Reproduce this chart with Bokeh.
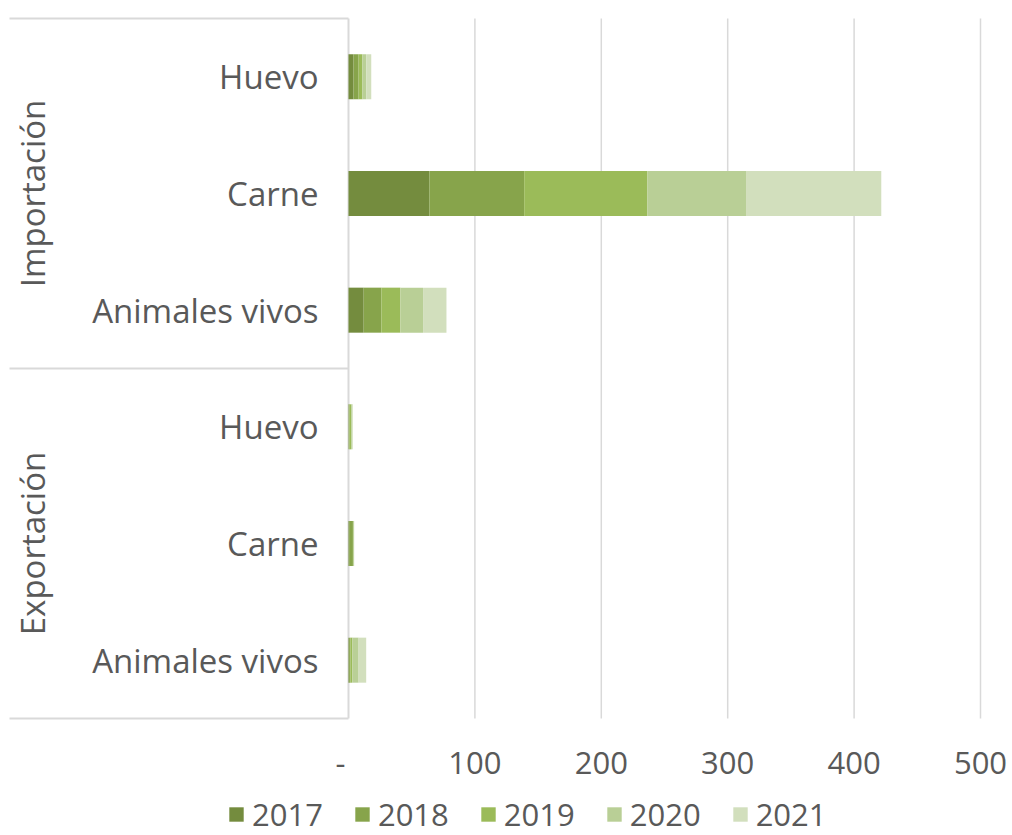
import math
from bokeh.plotting import figure
from bokeh.models import ColumnDataSource, Range1d, Legend, LegendItem
from bokeh.core.properties import value
from bokeh.embed import file_html
from bokeh.resources import INLINE

groups = ["Importación", "Exportación"]
products = ["Huevo", "Carne", "Animales vivos", "Huevo", "Carne", "Animales vivos"]
years = ["2017", "2018", "2019", "2020", "2021"]
v2017 = [4, 64, 12, 0.2, 0.5, 0.5]
v2018 = [4, 75, 14, 0.5, 3.0, 1.0]
v2019 = [3, 97.5, 15, 1.5, 0.5, 1.5]
v2020 = [3, 78, 18, 0.8, 0.3, 5.0]
v2021 = [4, 107, 18.5, 0.5, 0.2, 6.0]
colors = ["#748C3E", "#87A44B", "#9BBB59", "#B9CF96", "#D2DFBD"]
xticks = [0, 100, 200, 300, 400, 500]
xtick_labels = ["-", "100", "200", "300", "400", "500"]

FONT = "Open Sans"
TXT = "#595959"
GRID = "#D9D9D9"

# layout (page pixels; canvas observed to start at page origin)
ORG = 0
W, H = 1012, 835
PX0, PY0 = 348, 718          # page position of value 0 / bottom of plot area
PXX = 632 / 500.0            # px per x unit
n = len(products)
PXY = 700 / float(n)         # px per category

def dx(px):  # page x -> data x
    return (px - PX0) / PXX

def dy(py):  # page y -> data y
    return (PY0 - py) / PXY

ypos = [n - 0.5 - i for i in range(n)]
src = ColumnDataSource(dict(y=ypos, **{"2017": v2017, "2018": v2018, "2019": v2019,
                                       "2020": v2020, "2021": v2021}))

p = figure(width=W, height=H, output_backend="svg", toolbar_location=None,
           x_range=Range1d(dx(ORG), dx(ORG + W)), y_range=Range1d(dy(ORG + H), dy(ORG)),
           x_axis_location=None, y_axis_location=None,
           min_border=0, min_border_left=0, min_border_right=0,
           min_border_top=0, min_border_bottom=0)
p.outline_line_color = None
p.xgrid.visible = False
p.ygrid.visible = False

# vertical grid lines and axis line
p.segment(x0=xticks[1:], x1=xticks[1:], y0=[0] * 5, y1=[n] * 5,
          line_color=GRID, line_width=1.5)
p.segment(x0=[0], x1=[0], y0=[0], y1=[n], line_color=GRID, line_width=2)
# category group separators
seps = [0, n / 2, n]
p.segment(x0=[dx(9)] * 3, x1=[0] * 3, y0=seps, y1=seps, line_color=GRID, line_width=2)

renderers = p.hbar_stack(years, y="y", height=0.386, color=colors, source=src,
                         line_color=None)

# category labels
p.text(x=[0] * n, y=ypos, text=products, x_offset=-30,
       text_align="right", text_baseline="middle",
       text_font=value(FONT), text_font_size="33px", text_color=TXT)
# group labels
p.text(x=[dx(32)] * 2, y=[ypos[1], ypos[4]], text=groups, angle=math.pi / 2,
       text_align="center", text_baseline="middle",
       text_font=value(FONT), text_font_size="33px", text_color=TXT)
# x tick labels
p.text(x=xticks, y=[dy(762)] * len(xticks), text=xtick_labels,
       x_offset=[-8, 0, 0, 0, 0, 0],
       text_align="center", text_baseline="middle",
       text_font=value(FONT), text_font_size="31px", text_color=TXT)

legend = Legend(items=[LegendItem(label=y, renderers=[r]) for y, r in zip(years, renderers)],
                orientation="horizontal", location=(227 - ORG, 0))
legend.label_text_font = FONT
legend.label_text_font_size = "31px"
legend.label_text_color = TXT
legend.glyph_width = 18
legend.glyph_height = 18
legend.label_standoff = 7
legend.spacing = 30
legend.padding = 0
legend.margin = 0
legend.border_line_color = None
legend.background_fill_alpha = 0
p.add_layout(legend)

open("out.html", "w").write(file_html(p, INLINE))
